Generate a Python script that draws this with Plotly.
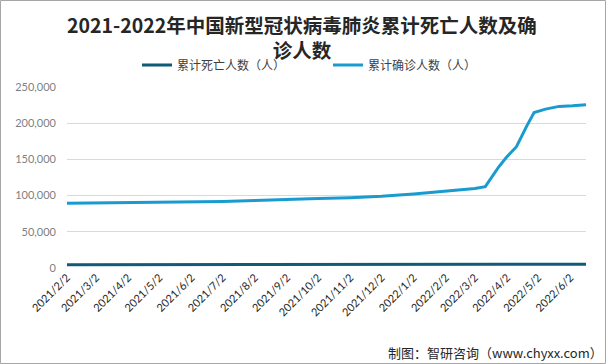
import plotly.graph_objects as go

dates = ["2021-02-02", "2021-03-02", "2021-04-02", "2021-05-02", "2021-06-02", "2021-07-02",
         "2021-08-02", "2021-09-02", "2021-10-02", "2021-11-02", "2021-12-02", "2022-01-02",
         "2022-02-02", "2022-03-02", "2022-03-12", "2022-03-25", "2022-04-01", "2022-04-11",
         "2022-04-21", "2022-04-28", "2022-05-09", "2022-05-22", "2022-06-04", "2022-06-17"]
confirmed = [89600, 89950, 90300, 90700, 91200, 91900,
             93200, 95000, 96100, 97200, 99000, 102300,
             106000, 109700, 112300, 139800, 152300, 167600,
             196300, 214800, 219400, 223200, 224000, 225400]
deaths = [4636, 4636, 4636, 4636, 4636, 4636,
          4636, 4636, 4636, 4636, 4636, 4636,
          4636, 4636, 4636, 4638, 4638, 4638,
          4725, 4970, 5150, 5210, 5224, 5226]

tick_vals = ["2021-02-02", "2021-03-02", "2021-04-02", "2021-05-02", "2021-06-02", "2021-07-02",
             "2021-08-02", "2021-09-02", "2021-10-02", "2021-11-02", "2021-12-02", "2022-01-02",
             "2022-02-02", "2022-03-02", "2022-04-02", "2022-05-02", "2022-06-02"]
tick_text = ["2021/2/2", "2021/3/2", "2021/4/2", "2021/5/2", "2021/6/2", "2021/7/2",
             "2021/8/2", "2021/9/2", "2021/10/2", "2021/11/2", "2021/12/2", "2022/1/2",
             "2022/2/2", "2022/3/2", "2022/4/2", "2022/5/2", "2022/6/2"]
y_ticks = [0, 50000, 100000, 150000, 200000, 250000]
y_text = ["0", "50,000", "100,000", "150,000", "200,000", "250,000"]

title = "2021-2022年中国新型冠状病毒肺炎累计死亡人数及确<br>诊人数"
name_deaths = "累计死亡人数（人）"
name_confirmed = "累计确诊人数（人）"
source = "制图：智研咨询（www.chyxx.com）"

W, H = 606, 364
L, R, T, B = 67, 20, 87, 96
pw, ph = W - L - R, H - T - B


def py(y_px):
    return (H - B - y_px) / ph


def px(x_px):
    return (x_px - L) / pw


fig = go.Figure()
fig.add_trace(go.Scatter(x=dates, y=deaths, mode="lines", name=name_deaths,
                         line=dict(color="#0F5B78", width=3), legend="legend"))
fig.add_trace(go.Scatter(x=dates, y=confirmed, mode="lines", name=name_confirmed,
                         line=dict(color="#1A9BD0", width=3), legend="legend2"))

legend_common = dict(orientation="h", yanchor="middle", y=py(65),
                     font=dict(size=12, color="#404040"), bgcolor="rgba(0,0,0,0)",
                     itemwidth=30, borderwidth=0)

fig.update_layout(
    width=W, height=H,
    margin=dict(l=L, r=R, t=T, b=B),
    paper_bgcolor="white", plot_bgcolor="white",
    font=dict(family="Noto Sans CJK SC", size=12, color="#333333"),
    legend=dict(x=px(137), xanchor="left", **legend_common),
    legend2=dict(x=px(328), xanchor="left", **legend_common),
    xaxis=dict(type="date", range=["2021-02-02", "2022-06-17"],
               tickvals=tick_vals, ticktext=tick_text, tickangle=-45,
               showgrid=False, showline=False, zeroline=False,
               tickfont=dict(family="Lato", size=11, color="#262626")),
    yaxis=dict(range=[0, 250000], tickvals=y_ticks, ticktext=y_text,
               showgrid=True, gridcolor="#D9D9D9", gridwidth=1, zeroline=False,
               showline=False, ticks="", ticklabelstandoff=10,
               tickfont=dict(family="Lato", size=11, color="#7F7F7F")),
    showlegend=True,
)

title_font = dict(family="Noto Sans CJK SC", size=19.5, color="#262626", weight="bold")
fig.add_annotation(text=title, xref="paper", yref="paper", x=px(302), xanchor="center",
                   y=py(37.5), yanchor="middle", showarrow=False, font=title_font)

fig.add_shape(type="rect", xref="paper", yref="paper",
              x0=px(0.5), x1=px(W - 0.5),
              y0=py(H - 0.5), y1=py(0.5),
              line=dict(color="#A6A6A6", width=1), fillcolor="rgba(0,0,0,0)", layer="below")

fig.add_annotation(text=source, xref="paper", yref="paper",
                   x=px(W - 1), xanchor="right",
                   y=py(352), yanchor="middle", showarrow=False,
                   font=dict(family="Noto Sans CJK SC", size=13, color="#262626"))

fig.write_html("out.html", post_script="document.body.style.margin='0';",
               config={"displayModeBar": False})
